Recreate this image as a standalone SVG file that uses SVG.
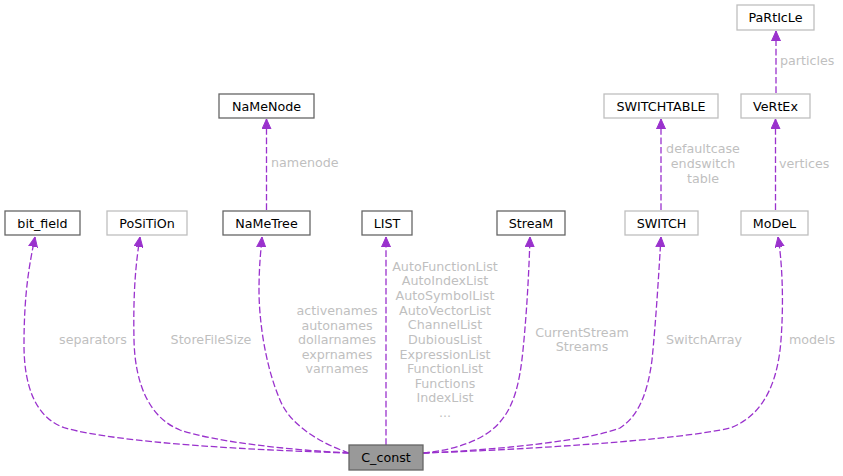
<svg xmlns="http://www.w3.org/2000/svg" width="843" height="476" viewBox="0 0 843 476">
<style>
text{font-family:"DejaVu Sans",sans-serif;font-size:12.7px}
.n text{text-anchor:middle;fill:#000}
.dk{fill:#fff;stroke:#666;stroke-width:1.3}
.lt{fill:#fff;stroke:#bfbfbf;stroke-width:1.3}
.e path{fill:none;stroke:#9a32cd;stroke-width:1.3;stroke-dasharray:6.7,2.7;marker-end:url(#ah)}
.l{fill:#bfbfbf;text-anchor:middle}
</style>
<defs>
<marker id="ah" viewBox="0 0 10 10" refX="10" refY="5" markerWidth="10" markerHeight="10" markerUnits="userSpaceOnUse" orient="auto">
<path d="M0,0.5 L10,5 L0,9.5 z" fill="#9a32cd" stroke="#9a32cd"/>
</marker>
</defs>
<rect width="843" height="476" fill="#fff"/>
<g id="edges" class="e">
<path d="M349,453 C250,450 120,443 65,428 C35,418 24,385 24,345 C24,290 30,262 35,237"/>
<path d="M349,453 C290,450 215,442 180,430 C150,418 135,385 134,340 C133,290 136,262 140,237"/>
<path d="M349,453 C320,443 290,425 280,400 C265,365 259,320 259,290 C259,265 261,250 262,237"/>
<path d="M386,445 L386,237"/>
<path d="M423,453 C455,450 485,440 500,422 C515,405 520,380 523,350 C527,310 529,270 530,237"/>
<path d="M423,453 C500,450 590,440 620,428 C640,415 648,390 652,360 C656,320 659,270 661,237"/>
<path d="M423,453 C520,450 680,440 730,428 C765,415 778,380 781,340 C784,300 782,260 778,237"/>
<path d="M266.5,210 L266.5,119"/>
<path d="M661,210 L661,119"/>
<path d="M775.5,210 L775.5,119"/>
<path d="M776,93 L776,31"/>
</g>
<g id="labels">
<text class="l" x="93" y="344">separators</text>
<text class="l" x="211" y="344">StoreFileSize</text>
<text class="l" x="337" y="315">activenames</text>
<text class="l" x="337" y="330">autonames</text>
<text class="l" x="337" y="344">dollarnames</text>
<text class="l" x="337" y="359">exprnames</text>
<text class="l" x="337" y="373">varnames</text>
<text class="l" x="445" y="271">AutoFunctionList</text>
<text class="l" x="445" y="285">AutoIndexList</text>
<text class="l" x="445" y="300">AutoSymbolList</text>
<text class="l" x="445" y="315">AutoVectorList</text>
<text class="l" x="445" y="329">ChannelList</text>
<text class="l" x="445" y="344">DubiousList</text>
<text class="l" x="445" y="359">ExpressionList</text>
<text class="l" x="445" y="373">FunctionList</text>
<text class="l" x="445" y="388">Functions</text>
<text class="l" x="445" y="402">IndexList</text>
<text class="l" x="445" y="417">...</text>
<text class="l" x="582" y="337">CurrentStream</text>
<text class="l" x="582" y="351">Streams</text>
<text class="l" x="704" y="344">SwitchArray</text>
<text class="l" x="812" y="344">models</text>
<text class="l" x="271" y="167" style="text-anchor:start">namenode</text>
<text class="l" x="703" y="153">defaultcase</text>
<text class="l" x="703" y="168">endswitch</text>
<text class="l" x="703" y="183">table</text>
<text class="l" x="779" y="168" style="text-anchor:start">vertices</text>
<text class="l" x="780" y="65" style="text-anchor:start">particles</text>
</g>
<g id="n_bit_field" class="n"><rect class="dk" x="5" y="211" width="75" height="24"/><text x="42.5" y="227.5">bit_field</text></g>
<g id="n_position" class="n"><rect class="lt" x="107" y="211" width="80" height="24"/><text x="147" y="227.5">PoSiTiOn</text></g>
<g id="n_nametree" class="n"><rect class="dk" x="223" y="211" width="87" height="24"/><text x="266.5" y="227.5">NaMeTree</text></g>
<g id="n_list" class="n"><rect class="dk" x="362" y="211" width="50" height="24"/><text x="387" y="227.5">LIST</text></g>
<g id="n_stream" class="n"><rect class="dk" x="497" y="211" width="68" height="24"/><text x="531" y="227.5">StreaM</text></g>
<g id="n_switch" class="n"><rect class="lt" x="625" y="211" width="73" height="24"/><text x="661.5" y="227.5">SWITCH</text></g>
<g id="n_model" class="n"><rect class="lt" x="741" y="211" width="67" height="24"/><text x="774.5" y="227.5">MoDeL</text></g>
<g id="n_namenode" class="n"><rect class="dk" x="219" y="94" width="95" height="24"/><text x="266.5" y="110.5">NaMeNode</text></g>
<g id="n_switchtable" class="n"><rect class="lt" x="604" y="94" width="114" height="24"/><text x="661" y="110.5">SWITCHTABLE</text></g>
<g id="n_vertex" class="n"><rect class="lt" x="741" y="94" width="69" height="24"/><text x="775.5" y="110.5">VeRtEx</text></g>
<g id="n_particle" class="n"><rect class="lt" x="737" y="5" width="77" height="25"/><text x="775.5" y="21.5">PaRtIcLe</text></g>
<g id="n_c_const" class="n"><rect x="349" y="445" width="74" height="25" fill="#999" stroke="#666" stroke-width="1.3"/><text x="386" y="461.5">C_const</text></g>
</svg>
